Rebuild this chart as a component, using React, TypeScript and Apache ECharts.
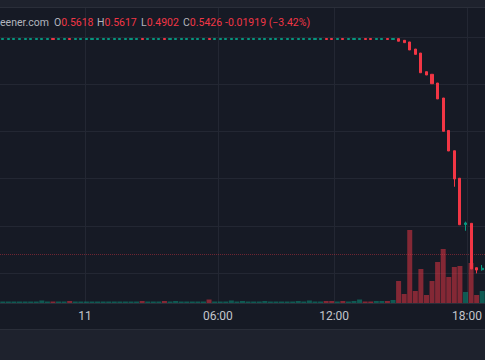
import { useEffect, useRef } from 'react';
import * as echarts from 'echarts';

// [open, close, low, high]
const ohlc: number[][] = [
  [0.56179, 0.56187, 0.56179, 0.56187], // 0
  [0.56179, 0.56187, 0.56179, 0.56187],
  [0.56179, 0.56187, 0.56179, 0.56187],
  [0.56179, 0.56187, 0.56179, 0.56187],
  [0.56179, 0.56187, 0.56179, 0.56187],
  [0.56179, 0.56187, 0.56179, 0.56187],
  [0.56179, 0.56187, 0.56179, 0.56187],
  [0.56179, 0.56187, 0.56179, 0.56187],
  [0.56179, 0.56187, 0.56179, 0.56187],
  [0.56187, 0.56179, 0.56179, 0.56187], // 9
  [0.56179, 0.56187, 0.56179, 0.56187],
  [0.56179, 0.56187, 0.56179, 0.56187],
  [0.56187, 0.56179, 0.56179, 0.56187], // 12
  [0.56179, 0.56187, 0.56179, 0.56187],
  [0.56179, 0.56187, 0.56179, 0.56187],
  [0.56179, 0.56187, 0.56179, 0.56187],
  [0.56179, 0.56187, 0.56179, 0.56187],
  [0.56179, 0.56187, 0.56179, 0.56187],
  [0.56179, 0.56187, 0.56179, 0.56187],
  [0.56179, 0.56187, 0.56179, 0.56187],
  [0.56179, 0.56187, 0.56179, 0.56187], // 20
  [0.56179, 0.56187, 0.56179, 0.56187],
  [0.56179, 0.56187, 0.56179, 0.56187],
  [0.56179, 0.56187, 0.56179, 0.56187],
  [0.56179, 0.56187, 0.56179, 0.56187],
  [0.56187, 0.56179, 0.56179, 0.56187], // 25
  [0.56179, 0.56187, 0.56179, 0.56187],
  [0.56179, 0.56187, 0.56179, 0.56187],
  [0.56179, 0.56187, 0.56179, 0.56187],
  [0.56187, 0.56179, 0.56179, 0.56187], // 29
  [0.56179, 0.56187, 0.56179, 0.56187], // 30
  [0.56179, 0.56187, 0.56179, 0.56187],
  [0.56179, 0.56187, 0.56179, 0.56187],
  [0.56179, 0.56187, 0.56179, 0.56187],
  [0.56179, 0.56187, 0.56179, 0.56187],
  [0.56179, 0.56187, 0.56179, 0.56187],
  [0.56179, 0.56187, 0.56179, 0.56187],
  [0.56187, 0.56179, 0.56179, 0.56187], // 37
  [0.56179, 0.56187, 0.56179, 0.56187],
  [0.56179, 0.56187, 0.56179, 0.56187],
  [0.56179, 0.56187, 0.56179, 0.56187], // 40
  [0.56179, 0.56187, 0.56179, 0.56187],
  [0.56179, 0.56187, 0.56179, 0.56187],
  [0.56179, 0.56187, 0.56179, 0.56187],
  [0.56179, 0.56187, 0.56179, 0.56187],
  [0.56179, 0.56187, 0.56179, 0.56187],
  [0.56179, 0.56187, 0.56179, 0.56187],
  [0.56179, 0.56187, 0.56179, 0.56187],
  [0.56179, 0.56187, 0.56179, 0.56187],
  [0.56179, 0.56187, 0.56179, 0.56187],
  [0.56179, 0.56187, 0.56179, 0.56187], // 50
  [0.56179, 0.56187, 0.56179, 0.56187],
  [0.56179, 0.56187, 0.56179, 0.56187],
  [0.56179, 0.56187, 0.56179, 0.56187],
  [0.56179, 0.56187, 0.56179, 0.56187],
  [0.56179, 0.56187, 0.56179, 0.56187],
  [0.56179, 0.56187, 0.56179, 0.56187],
  [0.56179, 0.56187, 0.56179, 0.56187],
  [0.56187, 0.56179, 0.56179, 0.56187], // 58
  [0.56187, 0.56179, 0.56179, 0.56187], // 59
  [0.56179, 0.56187, 0.56179, 0.56187], // 60
  [0.56187, 0.56179, 0.56179, 0.56187], // 61
  [0.56179, 0.56187, 0.56179, 0.56187],
  [0.56179, 0.56187, 0.56179, 0.56187],
  [0.56179, 0.56187, 0.56179, 0.56187],
  [0.56187, 0.56179, 0.56179, 0.56187], // 65
  [0.56187, 0.56179, 0.56179, 0.56187], // 66
  [0.56179, 0.56187, 0.56179, 0.56187],
  [0.56179, 0.56187, 0.56179, 0.56187],
  [0.56187, 0.56179, 0.56179, 0.56187], // 69
  [0.56179, 0.56187, 0.56179, 0.56187], // 70
  [0.56186, 0.56164, 0.56164, 0.56186], // 71
  [0.56172, 0.56152, 0.56152, 0.56172],
  [0.56158, 0.5609, 0.5609, 0.56158],
  [0.56098, 0.56053, 0.56053, 0.56098],
  [0.56064, 0.55897, 0.55897, 0.56064], // 75
  [0.55906, 0.55878, 0.55878, 0.55906],
  [0.55884, 0.55804, 0.55804, 0.55884],
  [0.5581, 0.55675, 0.55675, 0.5581],
  [0.55683, 0.55401, 0.55401, 0.55683],
  [0.55408, 0.55234, 0.55234, 0.55408], // 80
  [0.55236, 0.54997, 0.54931, 0.55236],
  [0.55003, 0.54609, 0.54609, 0.55003],
  [0.54611, 0.54624, 0.54558, 0.54635],
  [0.54621, 0.54234, 0.54234, 0.54621],
  [0.54245, 0.54225, 0.54197, 0.54245], // 85
  [0.54228, 0.5424, 0.5422, 0.54268], // 86
];

const volume: number[] = [
  15, 15, 15, 15, 15, 15, 15, 25, 15, 15,
  15, 15, 20, 15, 15, 15, 15, 15, 15, 15,
  15, 15, 15, 15, 15, 20, 15, 15, 15, 20,
  15, 20, 15, 15, 15, 15, 15, 35, 15, 15,
  15, 25, 15, 20, 15, 15, 15, 20, 15, 15,
  15, 15, 15, 20, 15, 25, 15, 15, 20, 20,
  15, 20, 15, 20, 35, 15, 15, 20, 20, 20,
  30, 220, 90, 730, 120, 340, 80, 220, 410, 540,
  260, 360, 370, 110, 400, 80, 120,
];

const tickIndex = [15, 39, 60, 84];
const tickLabels = ['11', '06:00', '12:00', '18:00'];
const priceLine = 0.54361;

const legendSource = 'eener.com';
const legendLabels = ['O', 'H', 'L', 'C'];
const legendValues = ['0.5618', '0.5617', '0.4902', '0.5426'];
const legendChange = '-0.01919 (\u22123.42%)';

export default function App() {
  const ref = useRef<HTMLDivElement>(null);
  useEffect(() => {
    const chart = echarts.init(ref.current!, null, { renderer: 'svg' });
    const cats = ohlc.map((_, i) => String(i));
    const UP = '#089981';
    const DOWN = '#f23645';
    const GRID = '#232733';
    const BORDER = '#2a2e39';
    const GRAY = '#b2b5be';
    const FONT = 'Roboto, sans-serif';

    const groupX = [54, 97, 141, 183];
    const legendY = 22;
    const fs = 10.5;
    const legend: any[] = [
      { type: 'text', x: 0, y: legendY, z: 100, style: { text: legendSource, fill: GRAY, fontSize: fs, fontFamily: FONT, verticalAlign: 'middle' } },
    ];
    legendLabels.forEach((l, i) => {
      legend.push({
        type: 'text', x: groupX[i], y: legendY, z: 100,
        style: {
          text: `{l|${l}}{v|${legendValues[i]}}`,
          verticalAlign: 'middle',
          fontSize: fs, fontFamily: FONT,
          rich: {
            l: { fill: GRAY, fontSize: fs, fontFamily: FONT },
            v: { fill: DOWN, fontSize: fs, fontFamily: FONT },
          },
        },
      });
    });
    legend.push({ type: 'text', x: 225, y: legendY, z: 100, style: { text: legendChange, fill: DOWN, fontSize: fs, fontFamily: FONT, verticalAlign: 'middle' } });

    // price scale: 11800 px per unit, 0.5620 at y = 37
    const pxPerUnit = 11800;
    const yMin = 0.538;
    const yMax = 0.562 + 37 / pxPerUnit;
    const gridH = (yMax - yMin) * pxPerUnit;

    const option: any = {
      animation: false,
      backgroundColor: '#161a25',
      grid: [
        { left: -0.9, width: 487.2, top: 0, height: gridH },
        { left: -0.9, width: 487.2, top: 220, height: 83 },
        { left: 1.9, width: 481.6, top: 8, height: 295 },
      ],
      xAxis: [
        { type: 'category', gridIndex: 0, data: cats, boundaryGap: true, show: false },
        { type: 'category', gridIndex: 1, data: cats, boundaryGap: true, show: false },
        {
          type: 'category', gridIndex: 2, data: cats, boundaryGap: false,
          axisLine: { show: false }, axisTick: { show: false },
          axisLabel: {
            interval: (i: number) => tickIndex.includes(i),
            formatter: (_v: string, i: number) => tickLabels[tickIndex.indexOf(i)] ?? '',
            color: '#c3c5cc', fontSize: 12, fontFamily: FONT, margin: 7,
          },
          splitLine: { show: true, interval: (i: number) => tickIndex.includes(i), lineStyle: { color: GRID, width: 1 } },
        },
      ],
      yAxis: [
        {
          type: 'value', gridIndex: 0, min: yMin, max: yMax, interval: 0.004,
          axisLabel: { show: false }, axisLine: { show: false }, axisTick: { show: false },
          splitLine: { show: true, showMinLine: false, showMaxLine: false, lineStyle: { color: GRID, width: 1 } },
        },
        { type: 'value', gridIndex: 1, min: 0, max: 830, show: false, splitLine: { show: false } },
        { type: 'value', gridIndex: 2, show: false, splitLine: { show: false } },
      ],
      series: [
        {
          type: 'bar', xAxisIndex: 1, yAxisIndex: 1, barWidth: '90%', z: 1,
          data: volume.map((v, i) => ({
            value: v,
            itemStyle: { color: ohlc[i][1] >= ohlc[i][0] ? 'rgba(8,153,129,0.5)' : 'rgba(242,54,69,0.5)' },
          })),
        },
        {
          type: 'candlestick', xAxisIndex: 0, yAxisIndex: 0, barWidth: 2.6, z: 3,
          data: ohlc,
          itemStyle: { color: UP, color0: DOWN, borderColor: UP, borderColor0: DOWN, borderWidth: 1 },
        },
      ],
    };
    chart.setOption(option);
    // price line placed through the price axis scale
    const py = Math.round(chart.convertToPixel({ yAxisIndex: 0 }, priceLine) as number) + 0.5;
    chart.setOption({
      graphic: [
        { id: 'topStrip', type: 'rect', shape: { x: 0, y: 0, width: 485, height: 7 }, style: { fill: '#1e222d' }, z: 50 },
        { id: 'topLine', type: 'line', shape: { x1: 0, y1: 7.5, x2: 485, y2: 7.5 }, style: { stroke: BORDER, lineWidth: 1 }, z: 50 },
        { id: 'axisLine', type: 'line', shape: { x1: 0, y1: 303.5, x2: 485, y2: 303.5 }, style: { stroke: BORDER, lineWidth: 1 }, z: 50 },
        { id: 'bottomPanel', type: 'rect', shape: { x: 0, y: 330, width: 485, height: 30 }, style: { fill: '#1e222d' }, z: 50 },
        { id: 'bottomLine', type: 'line', shape: { x1: 0, y1: 329.5, x2: 485, y2: 329.5 }, style: { stroke: BORDER, lineWidth: 1 }, z: 50 },
        { id: 'priceLine', type: 'line', shape: { x1: 0, y1: py, x2: 485, y2: py }, style: { stroke: 'rgba(242,54,69,0.4)', lineWidth: 1, lineDash: [1, 1] }, z: 2 },
        ...legend,
      ],
    });
    return () => chart.dispose();
  }, []);
  return <div ref={ref} style={{ position: 'fixed', left: 0, top: 0, width: 485, height: 360 }} />;
}
